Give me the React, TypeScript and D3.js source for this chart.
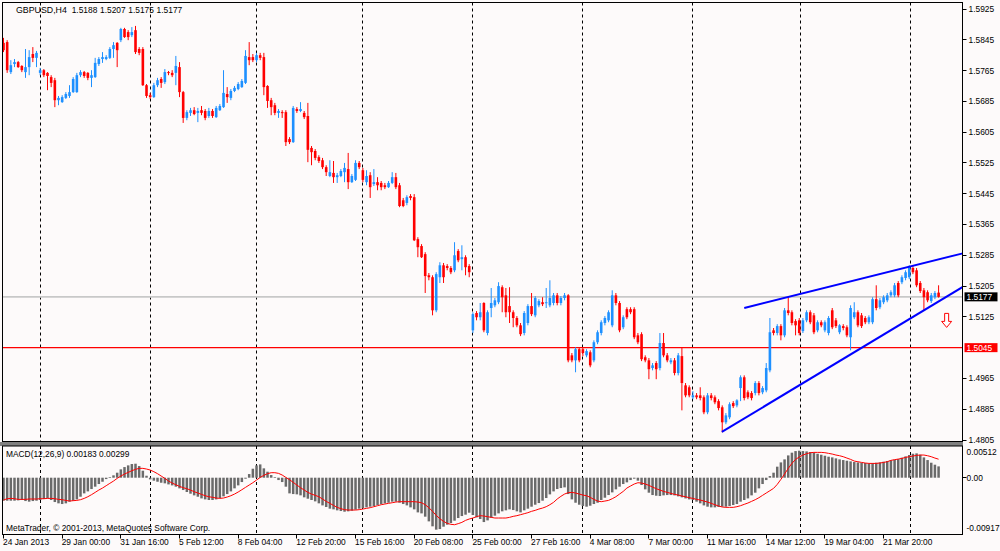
import React from 'react';
import * as d3 from 'd3';

const W = 1000;
const H = 551;

const symbolLabel = 'GBPUSD,H4';
const headerValues = [1.5188, 1.5207, 1.5175, 1.5177];
const macdTitle = 'MACD(12,26,9) 0.00183 0.00299';
const copyrightText = 'MetaTrader, \u00a9 2001-2013, MetaQuotes Software Corp.';

// [open, high, low, close] per H4 bar, 24 Jan 2013 08:00 ... 26 Mar 2013
const ohlc: [number, number, number, number][] = [
[1.5837,1.5850,1.5813,1.5818],[1.5839,1.5844,1.5759,1.5766],[1.5761,1.5792,1.5756,1.5779],[1.5782,1.5795,1.5774,1.5787],
[1.5787,1.5790,1.5772,1.5774],[1.5777,1.5779,1.5761,1.5766],[1.5761,1.5821,1.5746,1.5774],[1.5774,1.5818,1.5753,1.5800],
[1.5808,1.5826,1.5787,1.5798],[1.5798,1.5816,1.5774,1.5811],[1.5759,1.5772,1.5753,1.5766],[1.5766,1.5769,1.5748,1.5753],
[1.5759,1.5761,1.5714,1.5751],[1.5748,1.5753,1.5722,1.5733],[1.5740,1.5746,1.5670,1.5688],[1.5688,1.5699,1.5675,1.5694],
[1.5683,1.5701,1.5681,1.5696],[1.5694,1.5709,1.5691,1.5704],[1.5699,1.5727,1.5694,1.5709],[1.5709,1.5748,1.5707,1.5743],
[1.5709,1.5759,1.5707,1.5753],[1.5753,1.5766,1.5748,1.5761],[1.5761,1.5764,1.5746,1.5751],[1.5759,1.5761,1.5740,1.5746],
[1.5746,1.5766,1.5722,1.5753],[1.5748,1.5798,1.5746,1.5785],[1.5782,1.5800,1.5777,1.5795],[1.5795,1.5813,1.5785,1.5800],
[1.5795,1.5805,1.5792,1.5800],[1.5798,1.5826,1.5795,1.5821],[1.5821,1.5839,1.5798,1.5831],[1.5837,1.5839,1.5774,1.5818],
[1.5844,1.5876,1.5839,1.5873],[1.5873,1.5876,1.5850,1.5852],[1.5865,1.5870,1.5844,1.5852],[1.5857,1.5878,1.5852,1.5865],
[1.5870,1.5881,1.5808,1.5813],[1.5821,1.5826,1.5805,1.5811],[1.5821,1.5826,1.5725,1.5727],[1.5727,1.5730,1.5694,1.5699],
[1.5701,1.5707,1.5691,1.5696],[1.5696,1.5733,1.5694,1.5727],[1.5727,1.5746,1.5722,1.5740],[1.5743,1.5748,1.5720,1.5733],
[1.5735,1.5769,1.5730,1.5761],[1.5761,1.5764,1.5753,1.5759],[1.5759,1.5766,1.5748,1.5753],[1.5759,1.5803,1.5727,1.5777],
[1.5774,1.5787,1.5696,1.5709],[1.5709,1.5712,1.5629,1.5642],[1.5642,1.5662,1.5636,1.5657],[1.5655,1.5668,1.5647,1.5662],
[1.5662,1.5670,1.5649,1.5652],[1.5655,1.5668,1.5631,1.5660],[1.5662,1.5673,1.5649,1.5655],[1.5660,1.5665,1.5636,1.5642],
[1.5647,1.5668,1.5642,1.5660],[1.5660,1.5665,1.5642,1.5647],[1.5644,1.5673,1.5642,1.5668],[1.5662,1.5678,1.5660,1.5673],
[1.5670,1.5766,1.5668,1.5707],[1.5704,1.5722,1.5681,1.5696],[1.5694,1.5717,1.5688,1.5712],[1.5712,1.5725,1.5709,1.5720],
[1.5717,1.5735,1.5714,1.5730],[1.5722,1.5743,1.5720,1.5738],[1.5733,1.5818,1.5730,1.5803],[1.5800,1.5839,1.5779,1.5792],
[1.5800,1.5808,1.5787,1.5792],[1.5792,1.5811,1.5787,1.5805],[1.5805,1.5811,1.5792,1.5798],[1.5800,1.5811,1.5701,1.5722],
[1.5725,1.5727,1.5668,1.5686],[1.5688,1.5694,1.5649,1.5670],[1.5675,1.5681,1.5649,1.5655],[1.5655,1.5665,1.5642,1.5660],
[1.5657,1.5662,1.5642,1.5655],[1.5657,1.5662,1.5569,1.5579],[1.5587,1.5592,1.5574,1.5579],[1.5579,1.5673,1.5577,1.5668],
[1.5665,1.5670,1.5655,1.5660],[1.5660,1.5683,1.5657,1.5665],[1.5655,1.5660,1.5639,1.5644],[1.5647,1.5681,1.5527,1.5559],
[1.5564,1.5569,1.5519,1.5553],[1.5556,1.5561,1.5532,1.5538],[1.5540,1.5545,1.5525,1.5530],[1.5532,1.5538,1.5509,1.5514],
[1.5514,1.5519,1.5491,1.5501],[1.5491,1.5532,1.5488,1.5501],[1.5499,1.5530,1.5473,1.5488],[1.5488,1.5499,1.5473,1.5493],
[1.5491,1.5509,1.5488,1.5504],[1.5501,1.5525,1.5475,1.5512],[1.5509,1.5551,1.5457,1.5475],[1.5475,1.5496,1.5473,1.5491],
[1.5481,1.5532,1.5478,1.5525],[1.5525,1.5530,1.5509,1.5514],[1.5506,1.5512,1.5475,1.5481],[1.5475,1.5506,1.5467,1.5491],
[1.5493,1.5501,1.5434,1.5462],[1.5470,1.5509,1.5465,1.5475],[1.5475,1.5488,1.5454,1.5467],[1.5473,1.5478,1.5454,1.5462],
[1.5467,1.5473,1.5457,1.5462],[1.5462,1.5478,1.5460,1.5473],[1.5473,1.5501,1.5470,1.5488],[1.5488,1.5499,1.5457,1.5462],
[1.5467,1.5473,1.5410,1.5413],[1.5428,1.5434,1.5410,1.5413],[1.5421,1.5441,1.5415,1.5436],[1.5439,1.5444,1.5428,1.5434],
[1.5436,1.5444,1.5322,1.5324],[1.5327,1.5332,1.5280,1.5306],[1.5309,1.5314,1.5278,1.5280],[1.5288,1.5293,1.5187,1.5231],
[1.5233,1.5239,1.5220,1.5228],[1.5228,1.5233,1.5129,1.5142],[1.5142,1.5241,1.5137,1.5236],[1.5228,1.5267,1.5213,1.5259],
[1.5259,1.5265,1.5213,1.5228],[1.5257,1.5262,1.5246,1.5252],[1.5252,1.5257,1.5236,1.5241],[1.5246,1.5319,1.5241,1.5285],
[1.5296,1.5301,1.5267,1.5272],[1.5275,1.5311,1.5246,1.5280],[1.5280,1.5285,1.5233,1.5254],[1.5257,1.5262,1.5228,1.5241],
[1.5090,1.5137,1.5083,1.5132],[1.5135,1.5140,1.5116,1.5124],[1.5124,1.5161,1.5116,1.5137],[1.5161,1.5163,1.5085,1.5090],
[1.5083,1.5142,1.5077,1.5137],[1.5148,1.5200,1.5124,1.5161],[1.5155,1.5174,1.5150,1.5168],[1.5163,1.5215,1.5158,1.5205],
[1.5202,1.5207,1.5137,1.5176],[1.5181,1.5200,1.5124,1.5137],[1.5153,1.5202,1.5109,1.5137],[1.5137,1.5142,1.5098,1.5122],
[1.5122,1.5127,1.5098,1.5103],[1.5103,1.5109,1.5075,1.5080],[1.5083,1.5140,1.5077,1.5135],[1.5109,1.5158,1.5103,1.5153],
[1.5153,1.5187,1.5127,1.5132],[1.5129,1.5179,1.5124,1.5174],[1.5155,1.5171,1.5150,1.5166],[1.5163,1.5176,1.5153,1.5158],
[1.5161,1.5200,1.5148,1.5163],[1.5155,1.5220,1.5150,1.5174],[1.5161,1.5187,1.5155,1.5181],[1.5181,1.5187,1.5155,1.5161],
[1.5161,1.5179,1.5155,1.5174],[1.5174,1.5187,1.5168,1.5181],[1.5181,1.5184,1.5007,1.5012],[1.5025,1.5031,1.5007,1.5012],
[1.5012,1.5046,1.4981,1.5041],[1.5041,1.5046,1.5007,1.5012],[1.5041,1.5046,1.5023,1.5031],[1.5025,1.5041,1.5020,1.5036],
[1.5033,1.5038,1.4994,1.4999],[1.5012,1.5064,1.5007,1.5059],[1.5059,1.5090,1.5054,1.5085],[1.5083,1.5116,1.5077,1.5111],
[1.5109,1.5127,1.5103,1.5122],[1.5116,1.5142,1.5111,1.5137],[1.5103,1.5194,1.5098,1.5181],[1.5181,1.5187,1.5155,1.5161],
[1.5161,1.5166,1.5085,1.5090],[1.5098,1.5129,1.5093,1.5124],[1.5145,1.5150,1.5119,1.5124],[1.5145,1.5150,1.5132,1.5137],
[1.5145,1.5150,1.5067,1.5072],[1.5077,1.5083,1.5054,1.5059],[1.5080,1.5085,1.5010,1.5015],[1.5020,1.5025,1.5007,1.5012],
[1.5012,1.5018,1.4963,1.4989],[1.4992,1.5005,1.4986,1.4999],[1.5005,1.5010,1.4963,1.4989],[1.4992,1.5083,1.4986,1.5057],
[1.5057,1.5083,1.5020,1.5025],[1.5025,1.5031,1.5007,1.5012],[1.5007,1.5018,1.5002,1.5012],[1.5012,1.5018,1.4973,1.4979],
[1.4979,1.5031,1.4973,1.5025],[1.5023,1.5046,1.4882,1.4953],[1.4947,1.4953,1.4916,1.4921],[1.4942,1.4947,1.4916,1.4921],
[1.4916,1.4932,1.4911,1.4921],[1.4921,1.4927,1.4911,1.4916],[1.4921,1.4942,1.4908,1.4914],[1.4916,1.4921,1.4872,1.4877],
[1.4877,1.4927,1.4872,1.4921],[1.4921,1.4927,1.4908,1.4914],[1.4916,1.4921,1.4898,1.4903],[1.4906,1.4911,1.4882,1.4888],
[1.4890,1.4895,1.4825,1.4851],[1.4851,1.4875,1.4846,1.4869],[1.4864,1.4903,1.4859,1.4898],[1.4901,1.4906,1.4888,1.4893],
[1.4895,1.4911,1.4890,1.4908],[1.4940,1.4973,1.4906,1.4968],[1.4968,1.4973,1.4908,1.4914],[1.4929,1.4934,1.4911,1.4916],
[1.4927,1.4932,1.4908,1.4914],[1.4927,1.4958,1.4921,1.4953],[1.4953,1.4958,1.4921,1.4927],[1.4929,1.4945,1.4924,1.4940],
[1.4934,1.5005,1.4929,1.4992],[1.4986,1.5122,1.4981,1.5085],[1.5090,1.5096,1.5077,1.5083],[1.5083,1.5106,1.5077,1.5101],
[1.5101,1.5106,1.5064,1.5077],[1.5077,1.5148,1.5072,1.5142],[1.5142,1.5176,1.5129,1.5135],[1.5137,1.5142,1.5103,1.5109],
[1.5114,1.5119,1.5077,1.5103],[1.5116,1.5122,1.5077,1.5083],[1.5088,1.5122,1.5083,1.5116],[1.5116,1.5142,1.5111,1.5137],
[1.5137,1.5142,1.5106,1.5111],[1.5129,1.5135,1.5080,1.5085],[1.5090,1.5116,1.5085,1.5111],[1.5111,1.5116,1.5098,1.5103],
[1.5090,1.5116,1.5085,1.5111],[1.5083,1.5127,1.5077,1.5122],[1.5142,1.5148,1.5093,1.5098],[1.5116,1.5122,1.5096,1.5101],
[1.5085,1.5106,1.5080,1.5103],[1.5101,1.5106,1.5090,1.5096],[1.5098,1.5103,1.5072,1.5077],[1.5072,1.5155,1.5038,1.5148],
[1.5124,1.5163,1.5119,1.5137],[1.5137,1.5142,1.5098,1.5103],[1.5129,1.5135,1.5096,1.5101],[1.5122,1.5127,1.5106,1.5111],
[1.5111,1.5129,1.5106,1.5124],[1.5111,1.5176,1.5106,1.5171],[1.5171,1.5207,1.5142,1.5148],[1.5150,1.5174,1.5145,1.5168],
[1.5163,1.5181,1.5158,1.5176],[1.5168,1.5187,1.5163,1.5181],[1.5181,1.5194,1.5176,1.5189],[1.5181,1.5213,1.5176,1.5207],
[1.5213,1.5218,1.5176,1.5181],[1.5215,1.5233,1.5210,1.5228],[1.5226,1.5246,1.5220,1.5241],[1.5228,1.5259,1.5223,1.5254],
[1.5252,1.5257,1.5236,1.5241],[1.5246,1.5252,1.5202,1.5207],[1.5213,1.5218,1.5187,1.5192],[1.5194,1.5200,1.5142,1.5176],
[1.5189,1.5194,1.5163,1.5168],[1.5166,1.5187,1.5161,1.5181],[1.5176,1.5192,1.5171,1.5187],[1.5188,1.5207,1.5175,1.5177],
];

// MACD main line (histogram), per bar
const macdMain: number[] = [
-0.00371,-0.00371,-0.00371,-0.00371,-0.00366,-0.00360,-0.00377,-0.00387,-0.00377,-0.00371,
-0.00360,-0.00344,-0.00334,-0.00360,-0.00393,-0.00414,-0.00425,-0.00414,-0.00387,-0.00371,
-0.00350,-0.00307,-0.00253,-0.00221,-0.00183,-0.00145,-0.00102,-0.00065,-0.00022,0.00011,
0.00038,0.00081,0.00135,0.00172,0.00199,0.00221,0.00226,0.00188,0.00113,0.00032,
-0.00027,-0.00048,-0.00065,-0.00081,-0.00091,-0.00108,-0.00124,-0.00145,-0.00172,-0.00199,
-0.00231,-0.00258,-0.00285,-0.00307,-0.00334,-0.00350,-0.00360,-0.00360,-0.00350,-0.00328,
-0.00301,-0.00264,-0.00221,-0.00172,-0.00124,-0.00070,-0.00016,0.00059,0.00145,0.00199,
0.00215,0.00151,0.00097,0.00043,0.00011,-0.00038,-0.00070,-0.00145,-0.00253,-0.00264,
-0.00269,-0.00285,-0.00317,-0.00339,-0.00360,-0.00382,-0.00414,-0.00447,-0.00473,-0.00500,
-0.00511,-0.00527,-0.00538,-0.00549,-0.00543,-0.00533,-0.00516,-0.00500,-0.00490,-0.00479,
-0.00468,-0.00457,-0.00441,-0.00425,-0.00414,-0.00404,-0.00387,-0.00387,-0.00404,-0.00425,
-0.00447,-0.00479,-0.00511,-0.00560,-0.00576,-0.00629,-0.00705,-0.00785,-0.00839,-0.00829,
-0.00791,-0.00759,-0.00732,-0.00694,-0.00651,-0.00619,-0.00597,-0.00565,-0.00603,-0.00640,
-0.00667,-0.00716,-0.00689,-0.00646,-0.00613,-0.00576,-0.00543,-0.00527,-0.00511,-0.00522,
-0.00543,-0.00560,-0.00527,-0.00500,-0.00468,-0.00436,-0.00409,-0.00371,-0.00328,-0.00269,
-0.00221,-0.00183,-0.00167,-0.00156,-0.00264,-0.00350,-0.00404,-0.00436,-0.00457,-0.00468,
-0.00452,-0.00425,-0.00404,-0.00360,-0.00323,-0.00280,-0.00237,-0.00188,-0.00145,-0.00102,
-0.00075,-0.00038,-0.00016,-0.00048,-0.00118,-0.00188,-0.00242,-0.00280,-0.00291,-0.00296,
-0.00285,-0.00280,-0.00280,-0.00285,-0.00301,-0.00317,-0.00334,-0.00350,-0.00360,-0.00387,
-0.00414,-0.00447,-0.00468,-0.00479,-0.00479,-0.00473,-0.00468,-0.00468,-0.00457,-0.00441,
-0.00425,-0.00387,-0.00360,-0.00334,-0.00285,-0.00242,-0.00172,-0.00102,-0.00038,0.00027,
0.00081,0.00178,0.00247,0.00296,0.00360,0.00404,0.00430,0.00436,0.00430,0.00425,
0.00414,0.00404,0.00387,0.00371,0.00355,0.00339,0.00328,0.00312,0.00296,0.00285,
0.00274,0.00264,0.00253,0.00247,0.00242,0.00237,0.00231,0.00237,0.00242,0.00247,
0.00258,0.00269,0.00280,0.00291,0.00301,0.00323,0.00344,0.00366,0.00387,0.00393,
0.00371,0.00328,0.00285,0.00242,0.00210,0.00183,
];

// MACD signal line, per bar
const macdSignal: number[] = [
-0.00360,-0.00339,-0.00334,-0.00339,-0.00350,-0.00350,-0.00350,-0.00344,-0.00344,-0.00344,
-0.00339,-0.00339,-0.00334,-0.00334,-0.00339,-0.00350,-0.00355,-0.00366,-0.00377,-0.00371,
-0.00366,-0.00355,-0.00334,-0.00307,-0.00274,-0.00237,-0.00199,-0.00167,-0.00129,-0.00091,
-0.00054,-0.00011,0.00027,0.00059,0.00086,0.00113,0.00135,0.00151,0.00151,0.00140,
0.00124,0.00097,0.00065,0.00027,-0.00011,-0.00054,-0.00086,-0.00113,-0.00140,-0.00161,
-0.00178,-0.00199,-0.00226,-0.00247,-0.00269,-0.00291,-0.00307,-0.00317,-0.00328,-0.00334,
-0.00328,-0.00312,-0.00291,-0.00264,-0.00231,-0.00194,-0.00156,-0.00118,-0.00081,-0.00038,
0.00005,0.00038,0.00065,0.00081,0.00081,0.00070,0.00043,0.00005,-0.00032,-0.00075,
-0.00118,-0.00161,-0.00199,-0.00237,-0.00264,-0.00285,-0.00307,-0.00344,-0.00382,-0.00414,
-0.00447,-0.00479,-0.00500,-0.00516,-0.00522,-0.00522,-0.00522,-0.00516,-0.00506,-0.00495,
-0.00484,-0.00468,-0.00452,-0.00436,-0.00425,-0.00414,-0.00404,-0.00393,-0.00387,-0.00387,
-0.00387,-0.00387,-0.00387,-0.00393,-0.00404,-0.00436,-0.00484,-0.00543,-0.00608,-0.00662,
-0.00705,-0.00737,-0.00753,-0.00759,-0.00742,-0.00721,-0.00689,-0.00667,-0.00651,-0.00629,
-0.00613,-0.00619,-0.00629,-0.00640,-0.00651,-0.00651,-0.00651,-0.00651,-0.00640,-0.00624,
-0.00613,-0.00597,-0.00581,-0.00565,-0.00543,-0.00527,-0.00506,-0.00490,-0.00468,-0.00436,
-0.00398,-0.00344,-0.00301,-0.00264,-0.00242,-0.00237,-0.00247,-0.00264,-0.00280,-0.00291,
-0.00317,-0.00350,-0.00377,-0.00387,-0.00377,-0.00366,-0.00339,-0.00307,-0.00264,-0.00221,
-0.00167,-0.00134,-0.00102,-0.00081,-0.00086,-0.00102,-0.00124,-0.00151,-0.00178,-0.00199,
-0.00221,-0.00237,-0.00253,-0.00269,-0.00280,-0.00296,-0.00307,-0.00323,-0.00334,-0.00350,
-0.00360,-0.00377,-0.00393,-0.00414,-0.00436,-0.00457,-0.00473,-0.00479,-0.00479,-0.00479,
-0.00468,-0.00452,-0.00430,-0.00409,-0.00382,-0.00355,-0.00323,-0.00285,-0.00247,-0.00210,
-0.00172,-0.00108,-0.00027,0.00059,0.00151,0.00231,0.00296,0.00334,0.00366,0.00387,
0.00404,0.00409,0.00409,0.00409,0.00404,0.00393,0.00382,0.00366,0.00355,0.00339,
0.00317,0.00296,0.00269,0.00258,0.00247,0.00237,0.00231,0.00231,0.00231,0.00237,
0.00247,0.00258,0.00280,0.00291,0.00301,0.00312,0.00328,0.00339,0.00350,0.00360,
0.00366,0.00366,0.00355,0.00339,0.00317,0.00299,
];

const priceTicks = [1.5925, 1.5845, 1.5765, 1.5685, 1.5605, 1.5525, 1.5445, 1.5365, 1.5285, 1.5205, 1.5125, 1.4965, 1.4885, 1.4805];
const macdMax = 0.00512;
const macdMin = -0.00917;
const macdTickLabels = ['0.00512', '0.00', '-0.00917'];

const timeLabels: [number, string][] = [
  [0, '24 Jan 2013'], [16, '29 Jan 00:00'], [32, '31 Jan 16:00'], [48, '5 Feb 12:00'],
  [64, '8 Feb 04:00'], [80, '12 Feb 20:00'], [96, '15 Feb 16:00'], [112, '20 Feb 08:00'],
  [128, '25 Feb 00:00'], [144, '27 Feb 16:00'], [160, '4 Mar 08:00'], [176, '7 Mar 00:00'],
  [192, '11 Mar 16:00'], [208, '14 Mar 12:00'], [224, '19 Mar 04:00'], [240, '21 Mar 20:00'],
];
const weekSeparators = [10, 40, 69, 98, 128, 158, 188, 217.4, 247.4];

const bidPrice = 1.5177;
const levelPrice = 1.5045;
// trend lines: [barIndex, price] anchors
const trendLines: [number, number][][] = [
  [[202, 1.5148], [261.6, 1.529]],
  [[195.9, 1.4826], [261.6, 1.5203]],
];
const sellArrow: [number, number] = [257.2, 1.5134];

const FONT = '"Liberation Sans", Arial, sans-serif';
const FS = 8.4;

const L = 2.5, R = 962.5;
const mainTop = 2.5, mainBottom = 441.5;
const macdTop = 446, macdBottom = 534.5;

const BULL = '#1e90ff';
const BEAR = '#ff0000';

const crisp = (v: number) => Math.round(v - 0.5) + 0.5;
const fmt4 = (v: number) => (v + 1e-9).toFixed(4);

export default function App() {
  const x = d3.scaleLinear().domain([0, 1]).range([3.5, 3.5 + 3.667]);
  const y = d3.scaleLinear().domain([1.4805, 1.5925]).range([440, 9]);
  const ym = d3.scaleLinear().domain([macdMin, macdMax]).range([macdBottom, macdTop]);

  const signalPath = d3.line<number>().x((_, i) => x(i)).y((d) => ym(d))(macdSignal) || '';

  const axx = x(sellArrow[0]);
  const ayy = y(sellArrow[1]);
  const arrowPath = `M${axx - 2},${ayy} L${axx + 2},${ayy} L${axx + 2},${ayy + 8} L${axx + 5},${ayy + 8} L${axx},${ayy + 14} L${axx - 5},${ayy + 8} L${axx - 2},${ayy + 8} Z`;

  const headerX = d3.scaleLinear().domain([0, 1]).range([71.7, 100]);

  return (
    <svg width={W} height={H} viewBox={`0 0 ${W} ${H}`} style={{ position: 'absolute', left: 0, top: 0, background: '#fdfafa' }}>
      <defs>
        <clipPath id="mainClip"><rect x={L} y={mainTop} width={R - L} height={mainBottom - mainTop} /></clipPath>
        <clipPath id="macdClip"><rect x={L} y={macdTop} width={R - L} height={macdBottom - macdTop} /></clipPath>
      </defs>
      <rect x={0} y={0} width={W} height={H} fill="#fdfafa" />

      {/* main panel */}
      <g clipPath="url(#mainClip)">
        {weekSeparators.map((w) => (
          <line key={'ws' + w} x1={crisp(x(w))} x2={crisp(x(w))} y1={mainTop} y2={mainBottom} stroke="#000" strokeWidth={1} strokeDasharray="3,3" />
        ))}
        <line x1={L} x2={R} y1={y(bidPrice)} y2={y(bidPrice)} stroke="#c8c8c8" strokeWidth={1.6} />
        <line x1={L} x2={R} y1={y(levelPrice)} y2={y(levelPrice)} stroke="#ff0000" strokeWidth={1.3} />
        {ohlc.map((d, i) => {
          const [o, h, l, c] = d;
          const col = c >= o ? BULL : BEAR;
          const cx = x(i);
          const top = y(Math.max(o, c));
          const bot = y(Math.min(o, c));
          return (
            <g key={'c' + i}>
              <line x1={cx} x2={cx} y1={y(h)} y2={y(l)} stroke={col} strokeWidth={1} />
              <rect x={cx - 1.3} y={top} width={2.6} height={Math.max(1, bot - top)} fill={col} />
            </g>
          );
        })}
        {trendLines.map((tl, k) => (
          <line key={'tl' + k} x1={x(tl[0][0])} y1={y(tl[0][1])} x2={x(tl[1][0])} y2={y(tl[1][1])} stroke="#0000ff" strokeWidth={2} />
        ))}
        <path d={arrowPath} fill="#ffffff" stroke="#ff0000" strokeWidth={1} />
      </g>
      <text x={16} y={13} fontFamily={FONT} fontSize={FS + 0.4} fill="#000">{symbolLabel}</text>
      {headerValues.map((v, k) => (
        <text key={'hv' + k} x={headerX(k)} y={13} fontFamily={FONT} fontSize={FS} fill="#000">{fmt4(v)}</text>
      ))}
      <rect x={L} y={mainTop} width={R - L} height={mainBottom - mainTop} fill="none" stroke="#000" strokeWidth={1} />

      {/* separator */}
      <rect x={0} y={442} width={R + 0.5} height={4} fill="#808080" />

      {/* macd panel */}
      <g clipPath="url(#macdClip)">
        {weekSeparators.map((w) => (
          <line key={'wm' + w} x1={crisp(x(w))} x2={crisp(x(w))} y1={macdTop} y2={macdBottom} stroke="#000" strokeWidth={1} strokeDasharray="3,3" />
        ))}
        {macdMain.map((v, i) => (
          <rect key={'h' + i} x={x(i) - 1.25} y={Math.min(ym(0), ym(v))} width={2.5} height={Math.abs(ym(v) - ym(0))} fill="#6a6a6a" />
        ))}
        <path d={signalPath} fill="none" stroke="#ff0000" strokeWidth={1} />
      </g>
      <text x={6} y={456.5} fontFamily={FONT} fontSize={FS} fill="#000">{macdTitle}</text>
      <text x={6} y={531} fontFamily={FONT} fontSize={FS} fill="#000">{copyrightText}</text>
      <rect x={L} y={macdTop} width={R - L} height={macdBottom - macdTop} fill="none" stroke="#000" strokeWidth={1} />

      {/* price axis */}
      {priceTicks.map((p) => (
        <g key={'pt' + p}>
          <line x1={R} x2={R + 4} y1={crisp(y(p))} y2={crisp(y(p))} stroke="#000" strokeWidth={1} />
          <text x={R + 6} y={y(p)} dy="0.35em" fontFamily={FONT} fontSize={FS} fill="#000">{fmt4(p)}</text>
        </g>
      ))}
      <rect x={R + 2} y={y(bidPrice) - 4.5} width={33} height={9} fill="#000" />
      <text x={R + 4} y={y(bidPrice)} dy="0.35em" fontFamily={FONT} fontSize={FS} fill="#fff">{fmt4(bidPrice)}</text>
      <rect x={R + 2} y={y(levelPrice) - 4.5} width={33} height={9} fill="#ff0000" />
      <text x={R + 4} y={y(levelPrice)} dy="0.35em" fontFamily={FONT} fontSize={FS} fill="#fff">{fmt4(levelPrice)}</text>

      {/* macd axis */}
      <line x1={R} x2={R + 4} y1={crisp(ym(0))} y2={crisp(ym(0))} stroke="#000" strokeWidth={1} />
      <text x={R + 4} y={macdTop + 6} dy="0.35em" fontFamily={FONT} fontSize={FS} fill="#000">{macdTickLabels[0]}</text>
      <text x={R + 4} y={ym(0)} dy="0.35em" fontFamily={FONT} fontSize={FS} fill="#000">{macdTickLabels[1]}</text>
      <text x={R + 4} y={macdBottom - 6} dy="0.35em" fontFamily={FONT} fontSize={FS} fill="#000">{macdTickLabels[2]}</text>

      {/* time axis */}
      {timeLabels.map(([i, s]) => (
        <g key={'tx' + i}>
          <line x1={crisp(x(i))} x2={crisp(x(i))} y1={macdBottom} y2={macdBottom + 4} stroke="#000" strokeWidth={1} />
          <text x={x(i) - 0.5} y={545} fontFamily={FONT} fontSize={FS} fill="#000">{s}</text>
        </g>
      ))}
    </svg>
  );
}
